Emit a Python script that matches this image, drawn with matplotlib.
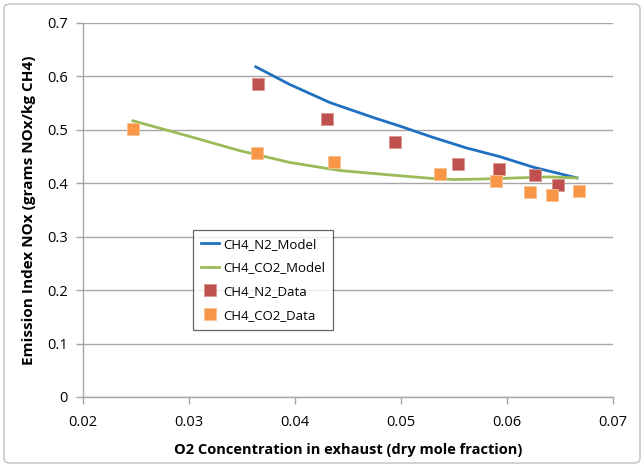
import matplotlib
matplotlib.use("Agg")
import matplotlib.pyplot as plt
from matplotlib.patches import FancyBboxPatch

plt.rcParams['font.family'] = ['Open Sans', 'DejaVu Sans']

# Model curves
n2_model_x = [0.0363, 0.0395, 0.0433, 0.0474, 0.0499, 0.0530, 0.0562, 0.0593, 0.0625, 0.0666]
n2_model_y = [0.618, 0.585, 0.551, 0.523, 0.507, 0.486, 0.466, 0.450, 0.430, 0.410]
co2_model_x = [0.0247, 0.0300, 0.0348, 0.0395, 0.0442, 0.0499, 0.0530, 0.0550, 0.0577, 0.0609, 0.0640, 0.0666]
co2_model_y = [0.517, 0.488, 0.461, 0.439, 0.424, 0.414, 0.409, 0.407, 0.408, 0.410, 0.412, 0.410]

# Measured data
n2_data_x = [0.0365, 0.0430, 0.0494, 0.0554, 0.0592, 0.0626, 0.0648]
n2_data_y = [0.585, 0.520, 0.477, 0.437, 0.426, 0.415, 0.396]
co2_data_x = [0.0247, 0.0364, 0.0437, 0.0537, 0.0590, 0.0622, 0.0642, 0.0668]
co2_data_y = [0.502, 0.456, 0.439, 0.418, 0.405, 0.383, 0.379, 0.385]

x_ticks = [0.02, 0.03, 0.04, 0.05, 0.06, 0.07]
y_ticks = [0, 0.1, 0.2, 0.3, 0.4, 0.5, 0.6, 0.7]

fig = plt.figure(figsize=(6.44, 4.67), dpi=100)
ax = fig.add_axes([83/644, 1 - 397/467, (613 - 83)/644, (397 - 23)/467])

grid_c = '#A6A6A6'
ax.plot(n2_model_x, n2_model_y, color='#1F70C1', lw=2, label='CH4_N2_Model', zorder=3)
ax.plot(co2_model_x, co2_model_y, color='#9BBB59', lw=2, label='CH4_CO2_Model', zorder=3)
ax.plot(n2_data_x, n2_data_y, ls='none', marker='s', ms=9, color='#C0504D',
        mec='#D99694', mew=0.6, label='CH4_N2_Data', zorder=4)
ax.plot(co2_data_x, co2_data_y, ls='none', marker='s', ms=9, color='#F79646',
        mec='#FAC090', mew=0.6, label='CH4_CO2_Data', zorder=4)

ax.set_xlim(0.02, 0.07)
ax.set_ylim(0, 0.7)
ax.set_xticks(x_ticks)
ax.set_xticklabels([f'{v:g}' for v in x_ticks])
ax.set_yticks(y_ticks)
ax.set_yticklabels([f'{v:g}' for v in y_ticks])
ax.yaxis.grid(True, color=grid_c, lw=1)
ax.set_axisbelow(True)
for side in ['top', 'right']:
    ax.spines[side].set_visible(False)
for side in ['left', 'bottom']:
    ax.spines[side].set_color(grid_c)
    ax.spines[side].set_linewidth(1)
ax.tick_params(axis='both', colors=grid_c, length=5, width=1, labelsize=10.5,
               labelcolor='black')
ax.tick_params(axis='x', pad=8)
ax.tick_params(axis='y', pad=6)

ax.set_xlabel('O2 Concentration in exhaust (dry mole fraction)', fontsize=10.5,
              fontweight='bold', labelpad=9)
ax.set_ylabel('Emission Index NOx (grams NOx/kg CH4)', fontsize=11,
              fontweight='bold', labelpad=8)

leg = ax.legend(loc='upper left', bbox_to_anchor=(193/644, 1 - 230/467),
                bbox_transform=fig.transFigure, fancybox=False, frameon=True,
                edgecolor='#404040', fontsize=9.5, handlelength=1.4,
                handletextpad=0.3, labelspacing=0.8, borderpad=0.6,
                borderaxespad=0)
leg.get_frame().set_linewidth(0.9)

# chart-area border
fig.patches.append(FancyBboxPatch((4/644, 4/467), 636/644, 459/467,
                                  boxstyle='round,pad=0,rounding_size=0.01',
                                  transform=fig.transFigure, fill=False,
                                  edgecolor='#BFBFBF', lw=1))

fig.savefig('out.png', dpi=100)
